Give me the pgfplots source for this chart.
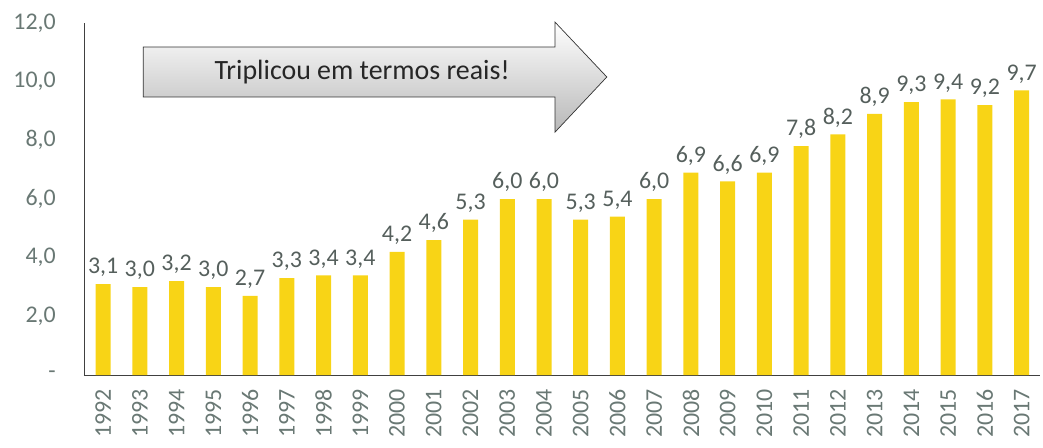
\documentclass[border=0pt]{standalone}
\usepackage{fontspec}
\setmainfont{Carlito}
\usepackage{pgfplots}
\pgfplotsset{compat=1.18}
\usetikzlibrary{calc}
\definecolor{baryel}{RGB}{248,212,22}
\definecolor{ticklab}{RGB}{105,120,116}
\definecolor{datlab}{RGB}{85,95,92}
\begin{document}
\begin{tikzpicture}
\begin{axis}[
  name=ax,
  scale only axis, width=956bp, height=352bp,
  xmin=-0.52, xmax=25.5, ymin=0, ymax=12,
  axis lines*=left,
  axis line style={draw=black!75, line width=0.8pt},
  ybar, bar width=15bp,
  /pgf/number format/assume math mode=true,
  xtick={0,...,25},
  xticklabels={1992,1993,1994,1995,1996,1997,1998,1999,2000,2001,2002,2003,2004,2005,2006,2007,2008,2009,2010,2011,2012,2013,2014,2015,2016,2017},
  x tick label style={rotate=90, anchor=east, font=\fontsize{24}{24}\selectfont, text=ticklab, inner sep=0bp, xshift=-14bp},
  ytick={0,2,4,6,8,10,12},
  yticklabels={-,{2,0},{4,0},{6,0},{8,0},{10,0},{12,0}},
  y tick label style={font=\fontsize{24}{24}\selectfont, text=ticklab, anchor=east, inner sep=0bp, xshift=-28bp},
  major tick length=0pt,
  clip=false,
  nodes near coords={\pgfmathprintnumber[fixed,fixed zerofill,precision=1,use comma]{\pgfplotspointmeta}},
  every node near coord/.append style={font=\fontsize{24}{24}\selectfont, text=datlab, inner sep=3bp, yshift=4bp},
]
\addplot[fill=baryel, draw=none] coordinates {
(0,3.1) (1,3.0) (2,3.2) (3,3.0) (4,2.7) (5,3.3) (6,3.4) (7,3.4) (8,4.2) (9,4.6)
(10,5.3) (11,6.0) (12,6.0) (13,5.3) (14,5.4) (15,6.0) (16,6.9) (17,6.6) (18,6.9) (19,7.8)
(20,8.2) (21,8.9) (22,9.3) (23,9.4) (24,9.2) (25,9.7)};
\draw[top color=white, bottom color=black!28, draw=black!80, line width=0.7pt]
  (axis cs:1.09,11.18) -- (axis cs:12.3,11.18) -- (axis cs:12.3,12.03) -- (axis cs:13.71,10.16)
  -- (axis cs:12.3,8.28) -- (axis cs:12.3,9.48) -- (axis cs:1.09,9.48) -- cycle;
\node[font=\fontsize{28}{28}\selectfont, text=black!85] at (axis cs:7.05,10.33) {Triplicou em termos reais!};
\end{axis}
\pgfresetboundingbox
\path ($(ax.south west)+(-84bp,-73bp)$) rectangle ($(ax.north east)+(3bp,23bp)$);
\end{tikzpicture}
\end{document}
